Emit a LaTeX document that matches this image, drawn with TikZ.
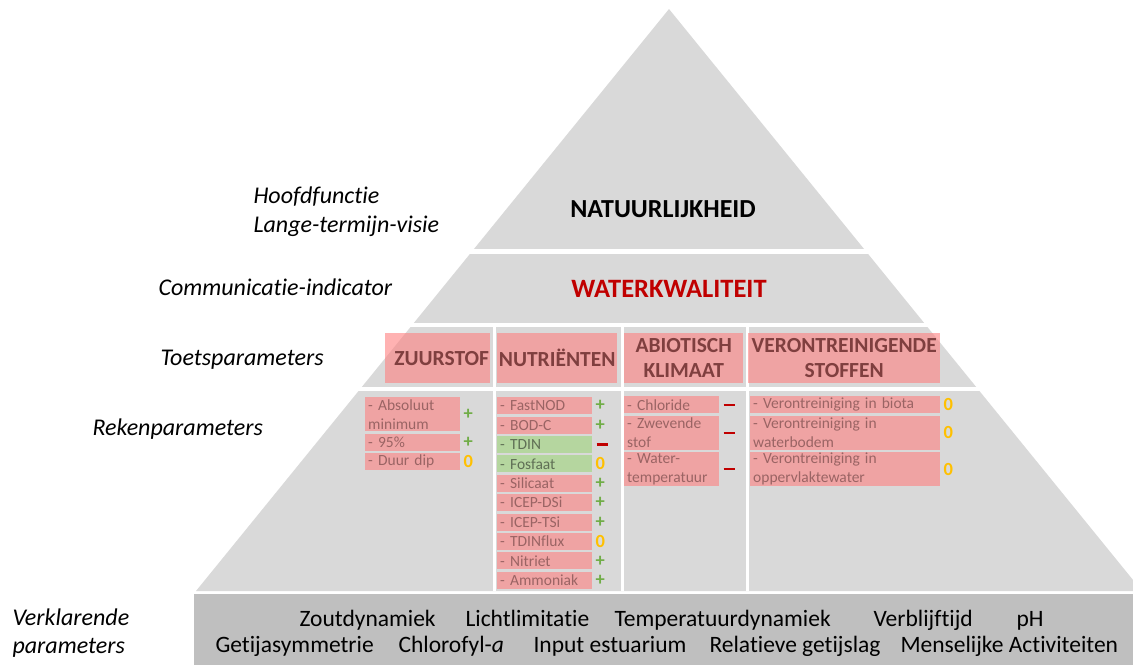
\documentclass[tikz,border=0pt]{standalone}
\usepackage{fontspec}
\setmainfont{Carlito}[Ligatures=NoCommon]
\usetikzlibrary{positioning}
\definecolor{PyrGrey}{HTML}{D9D9D9}
\definecolor{BarGrey}{HTML}{BFBFBF}
\definecolor{BoxPink}{HTML}{FF7F7F}
\definecolor{BoxGreen}{HTML}{B5D69F}
\definecolor{HeadText}{HTML}{7F3F3F}
\definecolor{ItemText}{HTML}{9A6464}
\definecolor{GreenText}{HTML}{5F6F55}
\definecolor{SignGreen}{HTML}{70AD47}
\definecolor{SignRed}{HTML}{C00000}
\definecolor{SignYellow}{HTML}{FFC000}
\newcommand{\minbar}{\rule{11pt}{2.2pt}}

\begin{document}
\begin{tikzpicture}[
  x=1pt, y=-1pt,
  layerlabel/.style={anchor=base west, font=\itshape\fontsize{24}{28}\selectfont},
  header/.style={fill=BoxPink, fill opacity=.6, text opacity=1, text=HeadText, font=\bfseries\fontsize{21.5}{25}\selectfont, align=center, inner sep=0pt, minimum height=50pt, anchor=north west},
  item/.style={fill=BoxPink, fill opacity=.6, text opacity=1, text=ItemText, font=\fontsize{15.5}{19}\selectfont, align=left, inner xsep=3pt, inner ysep=0pt, text width=89pt, minimum height=17pt},
  tallitem/.style={item, minimum height=34pt},
  wideitem/.style={text width=184pt},
  greenitem/.style={item, fill=BoxGreen, fill opacity=1, text=GreenText},
  sign/.style={font=\bfseries\fontsize{18.5}{18.5}\selectfont, inner sep=0pt, right=3pt of #1},
  goodsign/.style={sign=#1, text=SignGreen},
  badsign/.style={sign=#1, right=4pt of #1, text=SignRed},
  zerosign/.style={sign=#1, text=SignYellow},
  barword/.style={anchor=base west, font=\fontsize{23.5}{27}\selectfont}
]
  \useasboundingbox (0,0) rectangle (1133,665);

  % pyramid with white seams between the layers and columns
  \fill[PyrGrey] (669,9) -- (1142,591) -- (196,591) -- cycle;
  \fill[white] (0,249) rectangle (1133,253.5);
  \fill[white] (0,322.5) rectangle (1133,327);
  \fill[white] (0,387) rectangle (1133,390.5);
  \fill[white] (492.5,327) rectangle (495.5,591);
  \fill[white] (620.5,327) rectangle (623.5,591);
  \fill[white] (745.5,327) rectangle (748.5,591);
  \fill[BarGrey] (194,594) rectangle (1133,665);

  % level names on the left
  \node[layerlabel] (hoofd) at (250,203) {Hoofdfunctie};
  \node[layerlabel] (visie) at (250,232) {Lange-termijn-visie};
  \node[layerlabel] (comm) at (155,295) {Communicatie-indicator};
  \node[layerlabel] (toets) at (157,365) {Toetsparameters};
  \node[layerlabel] (reken) at (89,435) {Rekenparameters};
  \node[layerlabel] (verkl) at (9,625) {Verklarende};
  \node[layerlabel] (verkl2) at (9,653) {parameters};

  \node[anchor=base, font=\bfseries\fontsize{26}{30}\selectfont] (natuur) at (663,217) {NATUURLIJKHEID};
  \node[anchor=base, text=SignRed, font=\bfseries\fontsize{26.5}{30}\selectfont] (waterkw) at (669,297) {WATERKWALITEIT};

  % toetsparameters
  \node[header, minimum width=105pt] (zuurstof) at (385,333) {\hspace*{8pt}ZUURSTOF};
  \node[header, minimum width=120pt] (nutrient) at (497,333) {NUTRIËNTEN};
  \node[header, minimum width=119pt] (abiotisch) at (624,333) {ABIOTISCH\\KLIMAAT};
  \node[header, minimum width=192pt] (verontr) at (748,333) {VERONTREINIGENDE\\STOFFEN};

  % rekenparameters: zuurstof
  \node[tallitem, anchor=north west] (absmin) at (365,397) {- Absoluut\\minimum};
  \node[item, below=2pt of absmin] (perc) {- 95\%};
  \node[item, below=2pt of perc] (duurdip) {- Duur dip};
  \node[goodsign=absmin] {+};
  \node[goodsign=perc] {+};
  \node[zerosign=duurdip] {0};

  % rekenparameters: nutrienten
  \node[item, anchor=north west] (fastnod) at (497,397) {- FastNOD};
  \node[item, below=2pt of fastnod] (bodc) {- BOD-C};
  \node[greenitem, below=2pt of bodc] (tdin) {- TDIN};
  \node[greenitem, below=2pt of tdin] (fosfaat) {- Fosfaat};
  \node[item, below=2pt of fosfaat] (silicaat) {- Silicaat};
  \node[item, below=2pt of silicaat] (icepdsi) {- ICEP-DSi};
  \node[item, below=2pt of icepdsi] (iceptsi) {- ICEP-TSi};
  \node[item, below=2pt of iceptsi] (tdinflux) {- TDINflux};
  \node[item, below=2pt of tdinflux] (nitriet) {- Nitriet};
  \node[item, below=2pt of nitriet] (ammoniak) {- Ammoniak};
  \node[goodsign=fastnod] {+};
  \node[goodsign=bodc] {+};
  \node[badsign=tdin] {\minbar};
  \node[zerosign=fosfaat] {0};
  \node[goodsign=silicaat] {+};
  \node[goodsign=icepdsi] {+};
  \node[goodsign=iceptsi] {+};
  \node[zerosign=tdinflux] {0};
  \node[goodsign=nitriet] {+};
  \node[goodsign=ammoniak] {+};

  % rekenparameters: abiotisch klimaat
  \node[item, anchor=north west] (chloride) at (624,396) {- Chloride};
  \node[tallitem, below=2pt of chloride] (zwevend) {- Zwevende\\stof};
  \node[tallitem, below=2pt of zwevend] (wtemp) {- Water-\\temperatuur};
  \node[badsign=chloride] {\minbar};
  \node[badsign=zwevend] {\minbar};
  \node[badsign=wtemp] {\minbar};

  % rekenparameters: verontreinigende stoffen
  \node[item, wideitem, anchor=north west] (biota) at (750,396) {- Verontreiniging in biota};
  \node[tallitem, wideitem, below=2pt of biota] (bodem) {- Verontreiniging in\\waterbodem};
  \node[tallitem, wideitem, below=2pt of bodem] (opp) {- Verontreiniging in\\oppervlaktewater};
  \node[zerosign=biota] {0};
  \node[zerosign=bodem] {0};
  \node[zerosign=opp] {0};

  % verklarende parameters
  \node[barword] (zout) at (296,626) {Zoutdynamiek};
  \node[barword] (licht) at (462,626) {Lichtlimitatie};
  \node[barword] (temp) at (611,626) {Temperatuurdynamiek};
  \node[barword] (verblijf) at (870,626) {Verblijftijd};
  \node[barword] (ph) at (1013,626) {pH};
  \node[barword] (getij) at (212,652) {Getijasymmetrie};
  \node[barword] (chloro) at (395,652) {Chlorofyl-\textit{a}};
  \node[barword] (input) at (530,652) {Input estuarium};
  \node[barword] (relgetij) at (706,652) {Relatieve getijslag};
  \node[barword] (mens) at (897,652) {Menselijke Activiteiten};
\end{tikzpicture}
\end{document}
